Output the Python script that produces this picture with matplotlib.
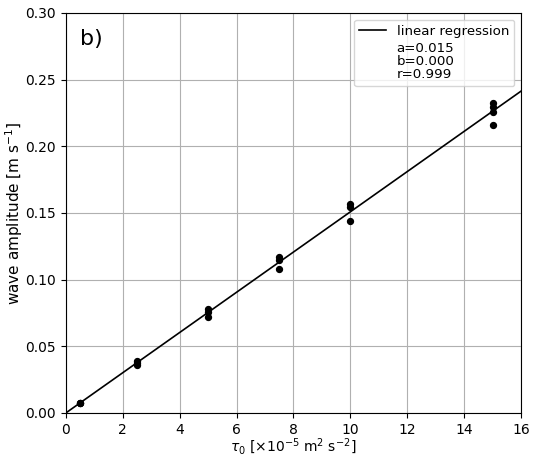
import numpy as np
import matplotlib
matplotlib.use('Agg')
import matplotlib.pyplot as plt
from matplotlib.lines import Line2D

# forcing amplitude tau0 [x1e-5 m2 s-2] and measured wave amplitude [m s-1]
tau0 = [0.5, 0.5, 0.5,
        2.5, 2.5, 2.5,
        5.0, 5.0, 5.0,
        7.5, 7.5, 7.5,
        10.0, 10.0, 10.0,
        15.0, 15.0, 15.0, 15.0]
amp = [0.0078, 0.0075, 0.0072,
       0.0390, 0.0375, 0.0360,
       0.0780, 0.0760, 0.0720,
       0.1170, 0.1150, 0.1080,
       0.1570, 0.1545, 0.1440,
       0.2325, 0.2295, 0.2255, 0.2160]

x = np.array(tau0)
y = np.array(amp)
a, b = np.polyfit(x, y, 1)
r = np.corrcoef(x, y)[0, 1]

fig = plt.figure(figsize=(5.4, 4.57), dpi=100)
ax = fig.add_axes([0.122, 0.0963, 0.843, 0.8753])

xl = np.linspace(0, 16, 50)
ax.plot(xl, a * xl + b, 'k-', linewidth=1.2, zorder=3)
ax.scatter(x, y, s=18, color='k', zorder=4)

ax.set_xlim(0, 16)
ax.set_ylim(0, 0.30)
ax.set_xticks(np.arange(0, 17, 2))
ax.set_yticks(np.arange(0, 0.31, 0.05))
ax.yaxis.set_major_formatter(matplotlib.ticker.FormatStrFormatter('%.2f'))
ax.grid(True, color='#b0b0b0', linewidth=0.8)
ax.set_axisbelow(True)

ax.set_xlabel(r'$\tau_0$ [$\times 10^{-5}$ m$^2$ s$^{-2}$]', fontsize=10, labelpad=0)
ax.set_ylabel(r'wave amplitude [m s$^{-1}$]', fontsize=11, labelpad=0)
ax.tick_params(labelsize=10)

ax.text(0.03, 0.96, 'b)', transform=ax.transAxes, fontsize=16, va='top', ha='left')

handles = [Line2D([], [], color='k', linewidth=1.2),
           Line2D([], [], color='none')]
labels = ['linear regression',
          f'a={a:.3f}\nb={abs(b):.3f}\nr={r:.3f}']
leg = ax.legend(handles, labels, loc='upper right', fontsize=9.6, framealpha=0.8,
                labelspacing=0.3)
for t in leg.get_texts():
    t.set_linespacing(1.0)

fig.savefig('out.png', dpi=100)
